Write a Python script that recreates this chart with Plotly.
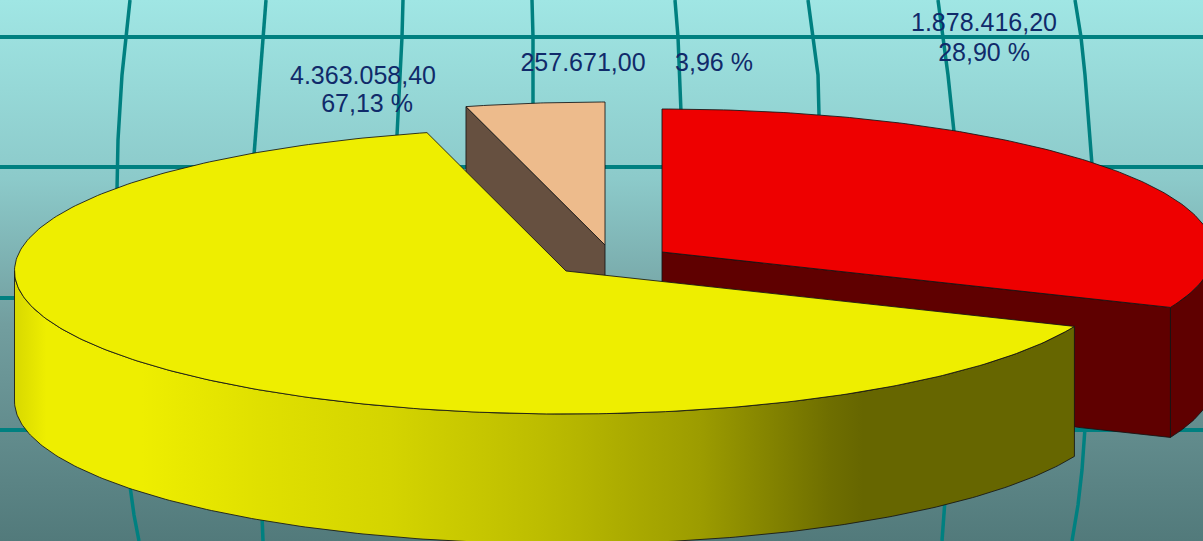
import numpy as np
import plotly.graph_objects as go

# Chart data
slice_names = ["Red", "Tan", "Yellow"]
slice_values = ["1.878.416,20", "257.671,00", "4.363.058,40"]
slice_percents = ["28,90 %", "3,96 %", "67,13 %"]
# Sweep of each slice on the drawn ellipse (clockwise from 12 o'clock)
slice_sweeps = [112.8, 14.6, 232.6]
slice_centers_x = [662, 605, 566]
slice_centers_y = [252, 245, 271]
top_colors = ["#EE0000", "#EDBB8C", "#EEEE00"]
cut_colors = ["#5F0000", "#665040", "#666600"]

# Drawing geometry
W, H = 1203, 541
RX, RY, DEPTH = 551.5, 143, 130
EDGE = "rgba(20,20,20,0.85)"

# Background (colour stops run bottom to top because the y axis is reversed)
bg_stops = [[0, "#527A7B"], [0.4, "#729E9F"], [0.67, "#8CCACA"], [1, "#A0E6E4"]]
grid_color = "#008080"
h_lines_y = [37, 167, 298, 430]
v_lines = [
    ([130, 122, 118, 117], [0, 75, 140, 190]),
    ([130, 134, 139], [486, 515, 541]),
    ([266, 258, 254], [0, 100, 155]),
    ([262, 263], [515, 541]),
    ([403, 402, 397], [0, 37, 135]),
    ([532, 533, 533], [0, 37, 105]),
    ([675, 678, 681], [0, 37, 112]),
    ([808, 813, 818, 819], [0, 37, 75, 115]),
    ([938, 943, 948, 954], [0, 37, 75, 132]),
    ([1075, 1081, 1085, 1092], [0, 37, 75, 165]),
    ([945, 942], [500, 541]),
    ([1085, 1082, 1078, 1072], [428, 470, 505, 541]),
]

# Labels
label_texts = ["4.363.058,40", "67,13 %", "257.671,00", "3,96 %", "1.878.416,20", "28,90 %"]
label_x = [363, 367, 583, 714, 984, 984]
label_y = [78, 106, 65, 65, 25, 55]
label_color = "#102A6A"

wall_stops = [
    [0, "#D8D800"], [0.03, "#EEEE00"], [0.12, "#EEEE00"],
    [0.23, "#E0E000"], [0.355, "#D4D400"], [0.495, "#BDBD00"], [0.647, "#9C9C00"],
    [0.77, "#6E6E00"], [0.8, "#666600"], [1, "#666600"],
]


def arc(cx, cy, a0, a1, n=160):
    t = np.radians(np.linspace(a0, a1, n))
    return cx + RX * np.cos(t), cy - RY * np.sin(t)


def poly(x, y, fill, line=EDGE, **kw):
    return go.Scatter(
        x=list(x) + [x[0]], y=list(y) + [y[0]], mode="lines", fill="toself",
        fillcolor=fill, line=dict(color=line, width=1), hoverinfo="skip",
        showlegend=False, **kw,
    )


fig = go.Figure()

# Background gradient
fig.add_trace(go.Scatter(
    x=[0, W, W, 0, 0], y=[0, 0, H, H, 0], mode="lines", fill="toself",
    fillgradient=dict(type="vertical", colorscale=bg_stops),
    line=dict(width=0), hoverinfo="skip", showlegend=False,
))

# Grid lines
for y in h_lines_y:
    fig.add_trace(go.Scatter(x=[0, W], y=[y, y], mode="lines",
                             line=dict(color=grid_color, width=4),
                             hoverinfo="skip", showlegend=False))
for xs, ys in v_lines:
    fig.add_trace(go.Scatter(x=xs, y=ys, mode="lines",
                             line=dict(color=grid_color, width=3.5),
                             hoverinfo="skip", showlegend=False))

# Slice boundaries: clockwise from 90 degrees; red, then tan, then yellow
a_red0 = 90
a_red1 = a_red0 - slice_sweeps[0]
a_tan0 = 90 + slice_sweeps[1]
a_yel0 = a_tan0
a_yel1 = a_yel0 + slice_sweeps[2]

# Tan slice
cx, cy = slice_centers_x[1], slice_centers_y[1]
ax, ay = arc(cx, cy, 90, a_tan0, 40)
fig.add_trace(poly([ax[-1], cx, cx, ax[-1]], [ay[-1], cy, cy + DEPTH, ay[-1] + DEPTH], cut_colors[1]))
fig.add_trace(poly([cx, *ax], [cy, *ay], top_colors[1]))

# Red slice
cx, cy = slice_centers_x[0], slice_centers_y[0]
ax, ay = arc(cx, cy, a_red0, a_red1)
ox, oy = arc(cx, cy, a_red1, 0, 40)
fig.add_trace(poly([*ox, *ox[::-1]], [*oy, *(oy[::-1] + DEPTH)], cut_colors[0]))
fig.add_trace(poly([cx, ax[-1], ax[-1], cx], [cy, ay[-1], ay[-1] + DEPTH, cy + DEPTH], cut_colors[0]))
fig.add_trace(poly([cx, *ax], [cy, *ay], top_colors[0]))

# Yellow slice
cx, cy = slice_centers_x[2], slice_centers_y[2]
ax, ay = arc(cx, cy, a_yel0, a_yel1, 300)
wx, wy = arc(cx, cy, 180, a_yel1, 240)
fig.add_trace(go.Scatter(
    x=[*wx, *wx[::-1], wx[0]], y=[*wy, *(wy[::-1] + DEPTH), wy[0]],
    mode="lines", fill="toself",
    fillgradient=dict(type="horizontal", colorscale=wall_stops),
    line=dict(color=EDGE, width=1), hoverinfo="skip", showlegend=False,
))
fig.add_trace(poly([cx, *ax], [cy, *ay], top_colors[2]))

# Labels
fig.add_trace(go.Scatter(
    x=label_x, y=label_y, mode="text", text=label_texts, textposition="middle center",
    textfont=dict(family="Liberation Sans, Arial, sans-serif", size=25, color=label_color),
    hoverinfo="skip", showlegend=False,
))

fig.update_layout(
    width=W, height=H, margin=dict(l=0, r=0, t=0, b=0),
    paper_bgcolor="#8CCACA", plot_bgcolor="#8CCACA",
    xaxis=dict(range=[0, W], visible=False, fixedrange=True),
    yaxis=dict(range=[H, 0], visible=False, fixedrange=True),
)
fig.write_html(
    "out.html",
    config={"displayModeBar": False},
    post_script="document.body.style.margin='0';document.documentElement.style.overflow='hidden';",
)
